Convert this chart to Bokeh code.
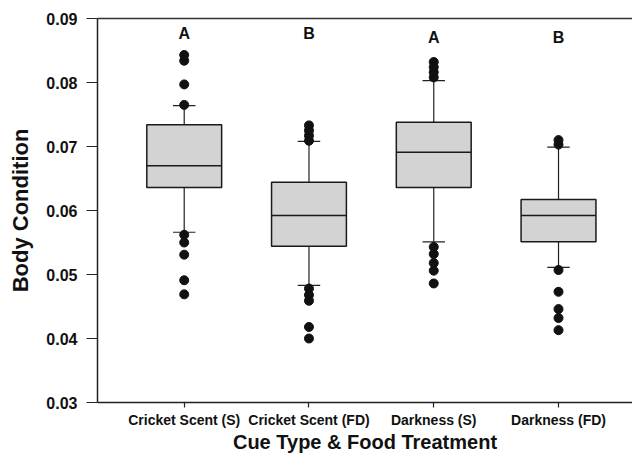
from bokeh.plotting import figure
from bokeh.models import LinearAxis, FixedTicker, Range1d, PrintfTickFormatter
from bokeh.core.properties import value
from bokeh.embed import file_html
from bokeh.resources import INLINE

categories = ["Cricket Scent (S)", "Cricket Scent (FD)", "Darkness (S)", "Darkness (FD)"]
q1 = [0.0636, 0.0544, 0.0636, 0.0551]
medians = [0.0670, 0.0592, 0.0691, 0.0592]
q3 = [0.0734, 0.0644, 0.0738, 0.0617]
lower_whisker = [0.0566, 0.0483, 0.0551, 0.0511]
upper_whisker = [0.0764, 0.0708, 0.0803, 0.0699]
outliers_cricket_s = [0.0765, 0.0797, 0.0834, 0.0843, 0.0562, 0.0550, 0.0531, 0.0491, 0.0469]
outliers_cricket_fd = [0.0709, 0.0717, 0.0725, 0.0733, 0.0478, 0.0468, 0.0459, 0.0418, 0.0400]
outliers_dark_s = [0.0808, 0.0816, 0.0824, 0.0832, 0.0543, 0.0532, 0.0518, 0.0506, 0.0486]
outliers_dark_fd = [0.0703, 0.0710, 0.0507, 0.0473, 0.0446, 0.0432, 0.0413]
letters = ["A", "B", "A", "B"]
letter_y = [0.0877, 0.0877, 0.0870, 0.0870]
y_ticks = [0.03, 0.04, 0.05, 0.06, 0.07, 0.08, 0.09]

FONT = "Liberation Sans"
BOX_W = 0.6
CAP_W = 0.18

xs = [i + 1 for i in range(len(categories))]

p = figure(width=632, height=455, output_backend="svg", toolbar_location=None,
           x_range=Range1d(0.305, 4.593), y_range=Range1d(0.03, 0.09),
           min_border_left=97, min_border_right=0, min_border_top=18, min_border_bottom=53)
p.outline_line_color = None
p.xgrid.visible = False
p.ygrid.visible = False
p.background_fill_color = "white"
p.border_fill_color = "white"

# whiskers
p.segment(x0=xs, y0=q3, x1=xs, y1=upper_whisker, line_color="#222222", line_width=1.2)
p.segment(x0=xs, y0=q1, x1=xs, y1=lower_whisker, line_color="#222222", line_width=1.2)
p.segment(x0=[x - CAP_W / 2 for x in xs], y0=upper_whisker,
          x1=[x + CAP_W / 2 for x in xs], y1=upper_whisker, line_color="#222222", line_width=1.2)
p.segment(x0=[x - CAP_W / 2 for x in xs], y0=lower_whisker,
          x1=[x + CAP_W / 2 for x in xs], y1=lower_whisker, line_color="#222222", line_width=1.2)

# boxes
p.vbar(x=xs, width=BOX_W, bottom=q1, top=q3, fill_color="#d3d3d3",
       line_color="#1a1a1a", line_width=1.5)
p.segment(x0=[x - BOX_W / 2 for x in xs], y0=medians,
          x1=[x + BOX_W / 2 for x in xs], y1=medians, line_color="#1a1a1a", line_width=1.5)

# outliers
all_out = [outliers_cricket_s, outliers_cricket_fd, outliers_dark_s, outliers_dark_fd]
ox, oy = [], []
for x, vals in zip(xs, all_out):
    for v in vals:
        ox.append(x)
        oy.append(v)
p.scatter(x=ox, y=oy, size=9, fill_color="#111111", line_color="#111111")

# significance letters
p.text(x=xs, y=letter_y, text=letters, text_align="center", text_baseline="middle",
       text_font=value(FONT), text_font_style="bold", text_font_size="16px", text_color="#111111")

# axes
p.xaxis.ticker = FixedTicker(ticks=xs)
p.xaxis.major_label_overrides = {x: c for x, c in zip(xs, categories)}
p.yaxis.ticker = FixedTicker(ticks=y_ticks)
p.yaxis.formatter = PrintfTickFormatter(format="%.2f")

for ax in [p.xaxis[0], p.yaxis[0]]:
    ax.axis_line_color = "#222222"
    ax.axis_line_width = 1.5
    ax.major_tick_line_color = "#222222"
    ax.major_tick_line_width = 1.2
    ax.major_tick_in = 0
    ax.minor_tick_line_color = None
    ax.major_label_text_font = FONT
    ax.major_label_text_font_style = "bold"
    ax.major_label_text_color = "#111111"
    ax.axis_label_text_font = FONT
    ax.axis_label_text_font_style = "bold"
    ax.axis_label_text_color = "#111111"

p.xaxis.major_tick_out = 5
p.xaxis.major_label_text_font_size = "14px"
p.xaxis.major_label_standoff = 4
p.xaxis.axis_label = "Cue Type & Food Treatment"
p.xaxis.axis_label_text_font_size = "20px"
p.xaxis.axis_label_standoff = 0

p.yaxis.major_tick_out = 11
p.yaxis.major_label_text_font_size = "16px"
p.yaxis.major_label_standoff = 9
p.yaxis.axis_label = "Body Condition"
p.yaxis.axis_label_text_font_size = "22px"
p.yaxis.axis_label_standoff = 10

top = LinearAxis(ticker=FixedTicker(ticks=[]), major_tick_out=0, major_tick_in=0,
                 minor_tick_out=0, minor_tick_in=0, major_label_standoff=0,
                 axis_line_color="#333333", axis_line_width=1.5)
p.add_layout(top, "above")

open("out.html", "w").write(file_html(p, INLINE))
